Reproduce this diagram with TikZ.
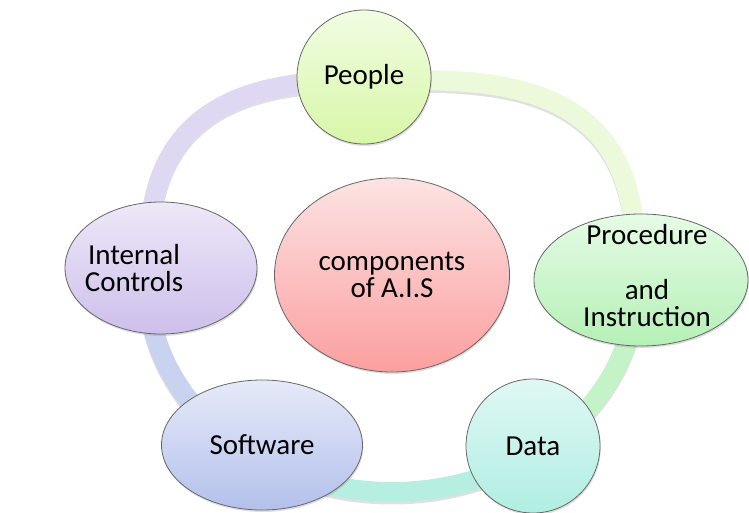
\documentclass[tikz,border=0pt]{standalone}
\usepackage{fontspec}
\setmainfont{Carlito}
\usetikzlibrary{shapes.geometric,shadows,backgrounds}

\definecolor{edge}{HTML}{666666}
\definecolor{peopletop}{HTML}{F1FDE2}
\definecolor{peoplebot}{HTML}{D8F6A8}
\definecolor{proctop}{HTML}{E5FBE5}
\definecolor{procbot}{HTML}{B5F0B6}
\definecolor{datatop}{HTML}{E0F8F4}
\definecolor{databot}{HTML}{B0EEE2}
\definecolor{softtop}{HTML}{E6EAF9}
\definecolor{softbot}{HTML}{B3C0EB}
\definecolor{ctrltop}{HTML}{EEE8F8}
\definecolor{ctrlbot}{HTML}{CDBFEB}
\definecolor{aistop}{HTML}{FDE3E3}
\definecolor{aisbot}{HTML}{FB9F9F}
\definecolor{rimA}{HTML}{ECFADB}
\definecolor{rimB}{HTML}{C3F3C6}
\definecolor{rimC}{HTML}{B6EFE2}
\definecolor{rimD}{HTML}{C9D3F0}
\definecolor{rimE}{HTML}{DFD8F2}

\begin{document}
\begin{tikzpicture}[x=1pt,y=-1pt,
    part/.style={draw=edge,line width=.8pt,inner sep=0pt,align=center,
      font=\fontsize{29}{27.5}\selectfont,
      drop shadow={opacity=.25,shadow xshift=.8pt,shadow yshift=-2pt}},
    round/.style={part,circle,minimum size=134pt},
    oval/.style={part,ellipse},
    inside/.style={align=center,inner sep=0pt,font=\fontsize{29}{27.5}\selectfont},
    rim/.style={line width=20pt,
      preaction={draw=black,opacity=.12,line width=20pt,transform canvas={yshift=-2.5pt}}},
    % flat-topped cycle: rounder above, elliptic below
    declare function={
      rimx(\t)=392+244*sign(cos(\t))*(abs(cos(\t))+1e-5)^(1-(sin(\t)<0)/3);
      rimy(\t)=286+206*sign(sin(\t))*(abs(sin(\t))+1e-5)^(1-(sin(\t)<0)/3);}]
  \useasboundingbox (0,0) rectangle (749,513);

  \node[round,top color=peopletop,bottom color=peoplebot] (people) at (364,77) {People};
  \node[oval,minimum width=214pt,minimum height=132pt,top color=proctop,bottom color=procbot,
    label={[inside,xshift=6pt,yshift=4pt]center:{Procedure\\[27pt]and\\Instruction}}] (proc) at (641,280) {};
  \node[round,top color=datatop,bottom color=databot] (data) at (533,446) {Data};
  \node[oval,minimum width=201pt,minimum height=130pt,top color=softtop,bottom color=softbot] (soft) at (262,445) {Software};
  \node[oval,minimum width=192pt,minimum height=132pt,top color=ctrltop,bottom color=ctrlbot,
    label={[inside,xshift=-27pt]center:{Internal\\Controls}}] (ctrl) at (161,268) {};
  \node[oval,minimum width=235pt,minimum height=194pt,top color=aistop,bottom color=aisbot] (ais) at (392,275) {components\\of A.I.S};

  % the cycle, one arc from each part to the next
  \begin{scope}[on background layer,samples=50,variable=\t]
    \draw[rim,rimA] (people.center) -- plot[domain=268:359.5] ({rimx(\t)},{rimy(\t)}) -- (proc.center);
    \draw[rim,rimB] (proc.center) -- plot[domain=0.5:53] ({rimx(\t)},{rimy(\t)}) -- (data.center);
    \draw[rim,rimC] (data.center) -- plot[domain=54:124] ({rimx(\t)},{rimy(\t)}) -- (soft.center);
    \draw[rim,rimD] (soft.center) -- plot[domain=125:181] ({rimx(\t)},{rimy(\t)}) -- (ctrl.center);
    \draw[rim,rimE] (ctrl.center) -- plot[domain=182:267.5] ({rimx(\t)},{rimy(\t)}) -- (people.center);
  \end{scope}
\end{tikzpicture}
\end{document}
